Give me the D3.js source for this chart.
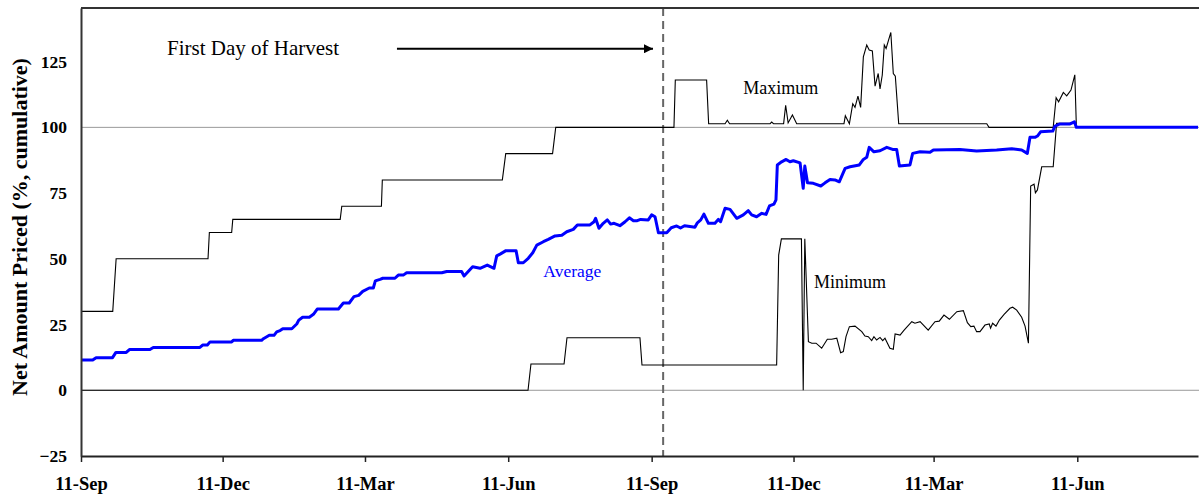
<!DOCTYPE html>
<html>
<head>
<meta charset="utf-8">
<script src="https://cdn.jsdelivr.net/npm/d3@7"></script>
<style>
  html, body { margin: 0; padding: 0; background: #fff; }
  svg { display: block; }
</style>
</head>
<body>
<svg id="chart" width="1199" height="498"></svg>
<script>
// ---------- DATA (x = position index from first 11-Sep, y = % cumulative) ----------
const tickDays   = [0, 62.9, 126.1, 189.7, 253.4, 316.4, 378.6, 442.4];
const tickLabels = ["11-Sep", "11-Dec", "11-Mar", "11-Jun", "11-Sep", "11-Dec", "11-Mar", "11-Jun"];
const yTicks     = [-25, 0, 25, 50, 75, 100, 125];
const gridValues = [0, 100];
const harvestDay = 258.5;

const maximumSeries = [
  [0,30],[14.1,30],[15.6,50],[56.4,50],[57,60],[66.9,60],[67.4,65],[115.1,65],[115.8,70],
  [133.4,70],[133.8,80],[187.1,80],[188.6,90],[209.4,90],[210.8,100],[263.3,100],[263.9,118],
  [277.8,118],[278.7,101.4],[286,101.4],[287,102.7],[288,101.4],[306,101.4],[306.7,102],
  [307.5,101.4],[312,101.4],[312.9,108.4],[314,101.7],[315.9,104.7],[317.8,101.4],[338.8,101.4],
  [339.4,104.4],[341.2,101.4],[342.7,109],[343.7,107.6],[345,111.9],[346.2,107.6],[347.4,126.8],
  [348.9,131.3],[350,129.4],[351.4,129.1],[352.6,115.7],[354,120.5],[354.8,114.6],[355.8,119.9],
  [356.7,131.3],[357.5,130],[359.6,136.1],[360.7,120.5],[361.6,119.5],[363.1,101.4],[402.2,101.4],
  [403.2,100],[431.7,100],[433,111.3],[434.1,109.7],[436.2,113.3],[437.7,112],[439.6,114.2],
  [441.3,120],[442,100],[496,100]
];

const minimumSeries = [
  [0,0],[198.5,0],[199.8,10],[214.5,10],[215.8,20],[248.2,20],[249.1,9.6],[308.9,9.6],
  [309.8,51.4],[311,57.6],[319.9,57.6],[320.7,0],[321.4,57.6],[323,18.5],[324.5,17.9],
  [326.4,17.9],[328.9,16],[331.4,19.4],[333.3,19.4],[335.6,19.8],[337.3,14.3],[338.5,14.7],
  [339.7,20.4],[341.2,24.2],[343.7,24.4],[346.7,22.3],[348.1,20.6],[349.6,20.4],[351.1,18.9],
  [352.1,20.4],[353.3,19.1],[354.8,20.1],[356,18.9],[357,19.8],[359.2,16],[360.7,15.6],
  [361.5,21.4],[363.7,21],[365.5,22.9],[368.9,26.1],[370.3,25.5],[372.6,26.1],[376.2,22.9],
  [379.2,26.1],[381.1,26.3],[383.2,28.6],[385.6,27],[388.9,29.9],[391.8,30.3],[393.6,25.7],
  [395.1,24.2],[396.5,24.4],[397.7,22.3],[399.2,22.3],[401.4,24.8],[403.3,25.2],[403.9,23.6],
  [404.8,25.5],[406.3,24.4],[407.8,26.7],[409.9,28.9],[412.5,31.2],[413.7,31.6],[415.5,30.5],
  [417.7,27.8],[419.2,24.4],[420.7,17.9],[421.7,77.7],[423.2,78.4],[423.8,75.1],[424.7,76.2],
  [426.6,85],[431.7,85],[433.2,101.5],[441.3,101.5],[442,100],[496,100]
];

const averageSeries = [
  [0,11.5],[5.2,11.5],[6.7,12.4],[14,12.4],[15.5,14.4],[20.1,14.4],[21.5,15.5],[30.6,15.5],
  [32.1,16.3],[52.8,16.3],[54,17.2],[56.1,17.2],[57.3,18.4],[66.9,18.4],[67.6,19],[80.2,19],
  [81,19.6],[83.6,20.9],[85.7,20.9],[86.9,22.2],[88.4,22.7],[89.6,23.4],[93.6,23.4],[95.8,25.2],
  [96.7,26.7],[98.4,27.8],[101.4,27.8],[103.2,28.9],[104.9,30.9],[114.3,30.9],[116.5,33.2],
  [119.1,33.2],[121.2,35.6],[123.3,36.1],[125.1,37.6],[128,38.9],[129.8,38.9],[130.7,41.6],
  [132.8,42.2],[134,42.6],[139.4,42.6],[140.9,43.8],[143.1,43.8],[144.6,44.7],[160.2,44.7],
  [162.4,45.2],[169,45.2],[170.1,43.5],[173.9,47],[177.2,46.4],[180.4,47.6],[183.4,46.4],
  [184.6,51.1],[186.1,51.8],[188.7,53.1],[193.2,53.1],[194.2,48.5],[196.4,48.5],[198.6,50.2],
  [200.6,52.3],[202.4,55.2],[205.3,56.5],[207.5,57.4],[210.5,58.7],[213.5,59],[215.7,60.3],
  [218.6,61.2],[220.4,62.9],[226,62.9],[227.8,64.1],[228.5,65.4],[230,61.6],[231.9,63.5],
  [233.7,64.8],[235.2,63.2],[236.7,63.5],[239.3,62.6],[241.6,64.1],[243.5,65.6],[245.3,64.5],
  [247,64.5],[248.5,65],[251.9,64.8],[253.4,66.7],[254.9,66],[256.4,59.9],[260.1,59.9],
  [262.1,61.8],[264.5,62.5],[266.2,61.7],[268,62.6],[271.2,62.2],[272.6,62],[273.7,63.7],
  [275.2,64.8],[276.6,67],[278.6,63.5],[281.5,63.5],[283,65],[284,64.1],[286,69.2],[288.2,68.8],
  [291.2,65.4],[294.1,66.7],[296.3,68.3],[297.8,66.7],[300,66],[302.3,67.3],[304.2,66.9],
  [305.7,70.1],[307.7,70.8],[308.6,72.4],[309.2,85.7],[311.1,86.9],[313.1,87.8],[314.8,86.9],
  [316.3,87.3],[319.3,86.5],[320.7,76.8],[321.4,85.3],[322.6,78.9],[325.2,78.7],[328.5,77.7],
  [330.4,78.9],[332.6,80.2],[334.8,80],[336.7,79.3],[339.3,84.4],[341.5,85],[345.6,85.7],
  [347.4,87.8],[348.9,88.6],[350,92.4],[352.1,90.7],[354.8,91.1],[357.8,92.4],[360.4,91.6],
  [362.2,91.6],[363.4,85.3],[368.1,85.7],[369.3,90.1],[372.6,90.7],[377,90.5],[378.5,91.4],
  [390.3,91.6],[397.7,91],[406.6,91.4],[413.3,91.9],[417.7,91.4],[420.2,90.1],[421.4,96.2],
  [423.6,96.2],[424.7,96.7],[426.1,98.3],[431.5,98.6],[432.5,100.5],[434.7,101.3],[439.2,101.3],
  [441.1,102.1],[442,100],[496,100]
];

const annotations = [
  { text: "First Day of Harvest", day: 38.2,  value: 127.7, color: "#000", size: 21 },
  { text: "Maximum",              day: 294.1, value: 112.7, color: "#000", size: 18 },
  { text: "Minimum",              day: 325.5, value: 38.8,  color: "#000", size: 18 },
  { text: "Average",              day: 205.3, value: 43.2,  color: "#0000ff", size: 17.5 }
];
const arrowFrom = [140.3, 129.9];
const arrowTo   = [254.0, 129.9];

// ---------- LAYOUT ----------
const svg = d3.select("#chart");
const plotLeft = 81, plotRight = 1198, plotTop = 8, plotBottom = 456;
const x = d3.scaleLinear().domain([0, 496]).range([plotLeft, plotRight]);
const y = d3.scaleLinear().domain([-25, 145.4]).range([plotBottom, plotTop]);
const serif = "'Liberation Serif', 'Times New Roman', serif";

// gridlines
svg.append("g").selectAll("line").data(gridValues).join("line")
  .attr("x1", plotLeft).attr("x2", 1199)
  .attr("y1", d => y(d)).attr("y2", d => y(d))
  .attr("stroke", "#999").attr("stroke-width", 1);

// dashed harvest line
svg.append("line")
  .attr("x1", x(harvestDay)).attr("x2", x(harvestDay))
  .attr("y1", plotTop).attr("y2", plotBottom)
  .attr("stroke", "#666").attr("stroke-width", 2)
  .attr("stroke-dasharray", "8,5");

const line = d3.line().x(d => x(d[0])).y(d => y(d[1]));

svg.append("path").datum(minimumSeries).attr("d", line)
  .attr("fill", "none").attr("stroke", "#000").attr("stroke-width", 1.1);
svg.append("path").datum(maximumSeries).attr("d", line)
  .attr("fill", "none").attr("stroke", "#000").attr("stroke-width", 1.1);
svg.append("path").datum(averageSeries).attr("d", line)
  .attr("fill", "none").attr("stroke", "#0000ff").attr("stroke-width", 3)
  .attr("stroke-linejoin", "round");

// frame top
svg.append("line").attr("x1", plotLeft).attr("x2", 1199).attr("y1", plotTop).attr("y2", plotTop)
  .attr("stroke", "#333").attr("stroke-width", 2);

// axes
const xAxis = d3.axisBottom(x).tickValues(tickDays)
  .tickFormat((d, i) => tickLabels[i]).tickSize(6).tickPadding(15).tickSizeOuter(0);
const gx = svg.append("g").attr("transform", `translate(0,${plotBottom})`).call(xAxis);
gx.select(".domain").attr("stroke", "#222").attr("stroke-width", 2);
gx.selectAll(".tick line").attr("stroke", "#222").attr("stroke-width", 1.5);
gx.selectAll("text").attr("font-family", serif).attr("font-size", 18.5)
  .attr("font-weight", "bold").attr("fill", "#000");

const yAxis = d3.axisLeft(y).tickValues(yTicks).tickSize(0).tickPadding(14).tickSizeOuter(0);
const gy = svg.append("g").attr("transform", `translate(${plotLeft},0)`).call(yAxis);
gy.select(".domain").attr("stroke", "#333").attr("stroke-width", 2);
gy.selectAll("text").attr("font-family", serif).attr("font-size", 17.5)
  .attr("font-weight", "bold").attr("fill", "#000");

// y title
svg.append("text")
  .attr("transform", `translate(27,227) rotate(-90)`)
  .attr("text-anchor", "middle")
  .attr("font-family", serif).attr("font-size", 22).attr("font-weight", "bold")
  .text("Net Amount Priced (%, cumulative)");

// annotations
svg.append("g").selectAll("text").data(annotations).join("text")
  .attr("x", d => x(d.day)).attr("y", d => y(d.value))
  .attr("font-family", serif).attr("font-size", d => d.size)
  .attr("fill", d => d.color).text(d => d.text);

// arrow
svg.append("defs").append("marker")
  .attr("id", "arrowhead").attr("viewBox", "0 0 10 10")
  .attr("refX", 10).attr("refY", 5)
  .attr("markerWidth", 5.5).attr("markerHeight", 4.5).attr("markerUnits", "strokeWidth")
  .attr("orient", "auto")
  .append("path").attr("d", "M0,0 L10,5 L0,10 z").attr("fill", "#000");
svg.append("line")
  .attr("x1", x(arrowFrom[0])).attr("y1", y(arrowFrom[1]))
  .attr("x2", x(arrowTo[0])).attr("y2", y(arrowTo[1]))
  .attr("stroke", "#000").attr("stroke-width", 2)
  .attr("marker-end", "url(#arrowhead)");
</script>
</body>
</html>
